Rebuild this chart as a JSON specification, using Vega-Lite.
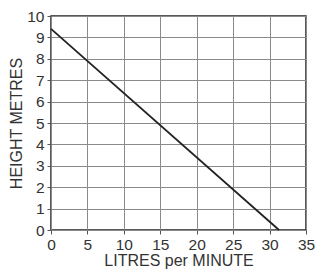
{
  "$schema": "https://vega.github.io/schema/vega-lite/v6.json",
  "width": 255,
  "height": 214,
  "autosize": {"type": "none"},
  "padding": {"left": 51, "top": 16, "right": 14, "bottom": 48},
  "background": "white",
  "data": {"values": [
    {"litres": 0, "height": 9.4},
    {"litres": 31.3, "height": 0}
  ]},
  "config": {
    "font": "Liberation Sans",
    "view": {"stroke": "#222", "strokeWidth": 1.5},
    "axis": {
      "gridColor": "#8a8a8a",
      "gridWidth": 1,
      "gridOpacity": 1,
      "domain": false,
      "tickColor": "#555",
      "tickSize": 4,
      "labelFont": "Liberation Sans",
      "labelFontSize": 15.5,
      "labelColor": "#333",
      "titleFont": "Liberation Sans",
      "titleFontSize": 16,
      "titleFontWeight": "normal",
      "titleColor": "#333"
    }
  },
  "mark": {"type": "line", "color": "#222", "strokeWidth": 1.8},
  "encoding": {
    "x": {
      "field": "litres",
      "type": "quantitative",
      "scale": {"domain": [0, 35], "nice": false},
      "axis": {"values": [0, 5, 10, 15, 20, 25, 30, 35], "title": "LITRES per MINUTE", "labelPadding": 3, "titlePadding": 0, "labelFlush": false}
    },
    "y": {
      "field": "height",
      "type": "quantitative",
      "scale": {"domain": [0, 10], "nice": false},
      "axis": {"values": [0, 1, 2, 3, 4, 5, 6, 7, 8, 9, 10], "title": "HEIGHT METRES", "labelPadding": 3, "titlePadding": 2, "labelFlush": false}
    }
  }
}
